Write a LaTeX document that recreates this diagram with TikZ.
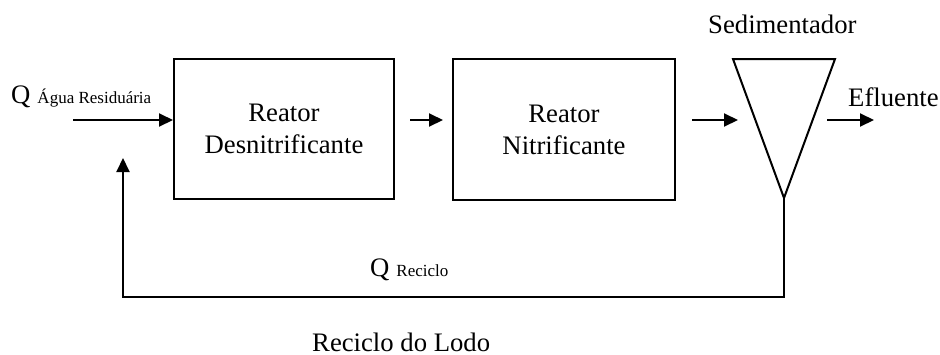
\documentclass[tikz,border=0pt]{standalone}
\usepackage{fontspec}
\setmainfont{Liberation Serif}
\usetikzlibrary{arrows.meta}
\tikzset{
  big/.style={font=\fontsize{26.7}{32}\selectfont},
  boxnode/.style={draw, line width=2pt, inner sep=0pt, align=center, big},
  arr/.style={line width=2pt, -{Triangle[length=14pt,width=13pt]}},
  lbl/.style={inner sep=0pt, anchor=base west, big},
}
\newcommand{\subtxt}[1]{{\fontsize{17}{20}\selectfont #1}}
\begin{document}
\begin{tikzpicture}[x=1pt,y=-1pt]
\useasboundingbox (0,0) rectangle (940,354);
% boxes
\node[boxnode, minimum width=220pt, minimum height=140pt] (b1) at (284,129) {Reator\\Desnitrificante};
\node[boxnode, minimum width=222pt, minimum height=141pt] (b2) at (564,129.5) {Reator\\Nitrificante};
% sedimentador triangle
\coordinate (tl) at (733,59);
\coordinate (tr) at (835,59);
\coordinate (apex) at (784,198);
\coordinate (bot) at (784,297);
\coordinate (left) at (123,297);
\coordinate (tip) at (123,158);
\draw[line width=2pt, line join=miter] (tl) -- (tr) -- (apex) -- cycle;
% flow line level
\coordinate (m) at (0,120);
\coordinate (qin) at (73,120);
\coordinate (s2) at (738,120);
\coordinate (e1) at (827,120);
\coordinate (e2) at (874,120);
\draw[arr] (qin) -- (qin -| b1.west);
\draw[arr, shorten <=15pt, shorten >=9pt] (m -| b1.east) -- (m -| b2.west);
\draw[arr, shorten <=16pt] (m -| b2.east) -- (s2);
\draw[arr] (e1) -- (e2);
% recycle
\draw[arr, line join=miter] (apex) -- (bot) -- (left) -- (tip);
% labels
\node[lbl] (qagua) at (11,103) {Q\hspace{7pt}\subtxt{Água Residuária}};
\node[lbl] (sed) at (708,33) {Sedimentador};
\node[lbl] (efl) at (848,106) {Efluente};
\node[lbl] (qrec) at (370,276) {Q\hspace{7pt}\subtxt{Reciclo}};
\node[lbl] (lodo) at (312,351) {Reciclo do Lodo};
\end{tikzpicture}
\end{document}
